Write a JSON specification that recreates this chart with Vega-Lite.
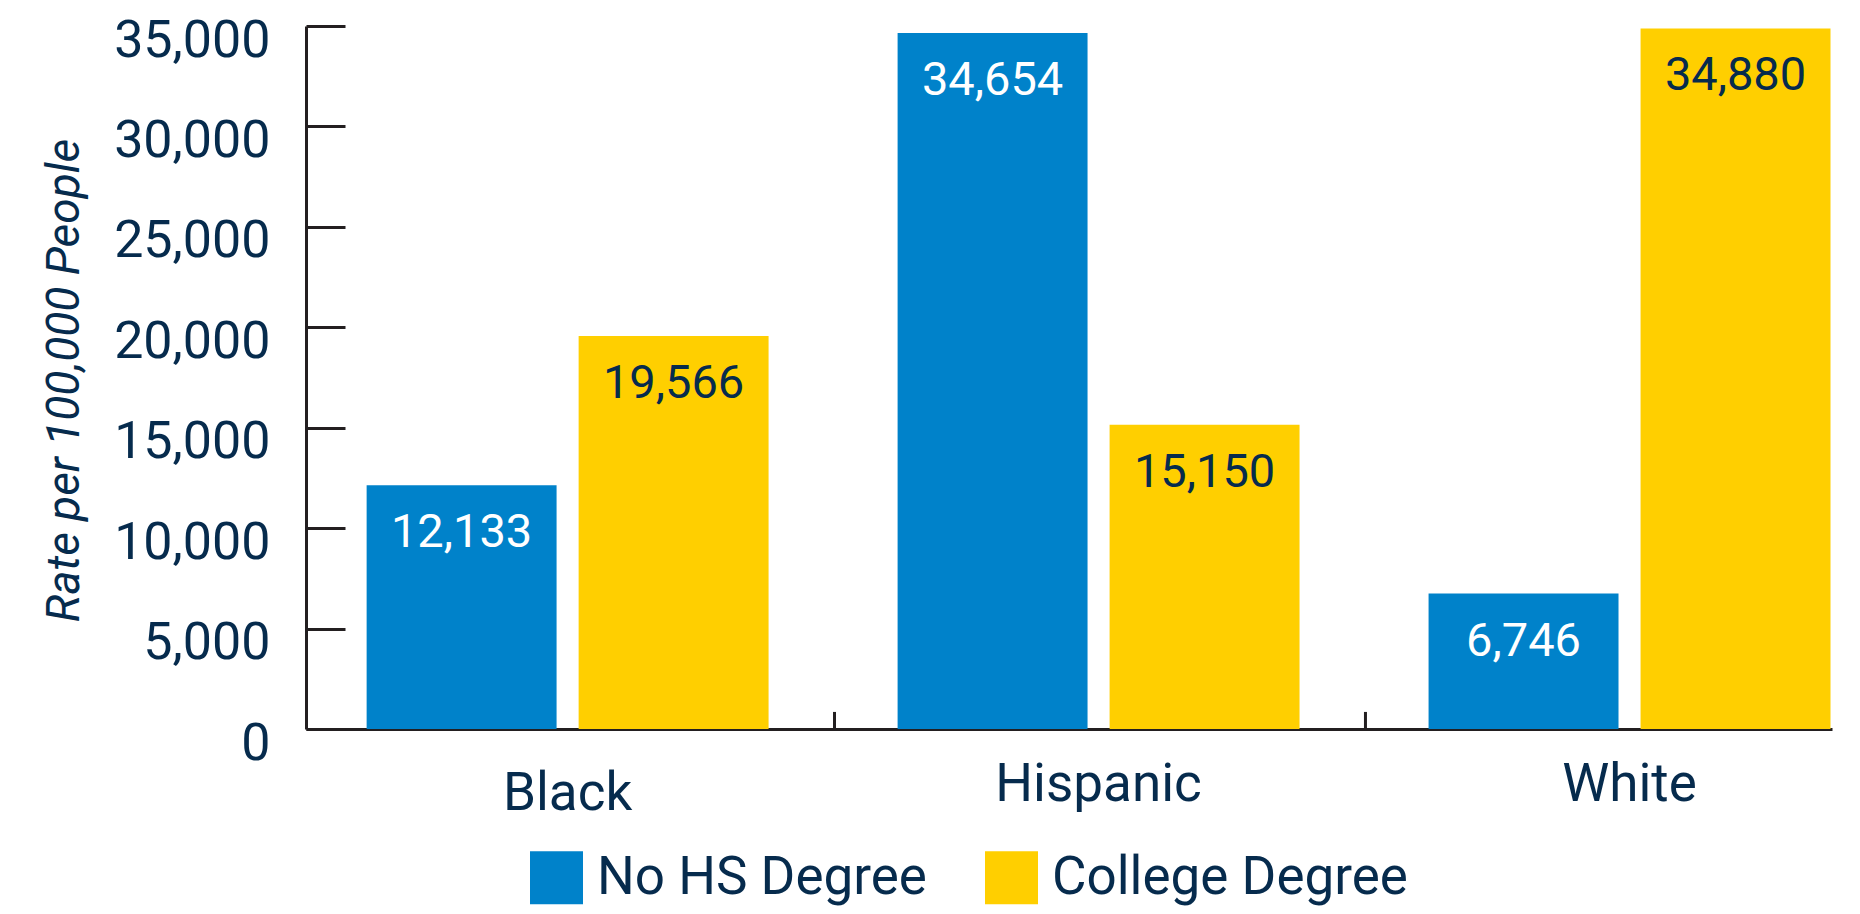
{
  "$schema": "https://vega.github.io/schema/vega-lite/v6.json",
  "width": 1526,
  "height": 703,
  "autosize": {"type": "none"},
  "padding": {"left": 306, "top": 26, "right": 28, "bottom": 185},
  "background": "white",
  "config": {"view": {"stroke": null}, "font": "Roboto"},
  "data": {
    "values": [
      {"race": "Black", "series": "No HS Degree", "value": 12133},
      {"race": "Black", "series": "College Degree", "value": 19566},
      {"race": "Hispanic", "series": "No HS Degree", "value": 34654},
      {"race": "Hispanic", "series": "College Degree", "value": 15150},
      {"race": "White", "series": "No HS Degree", "value": 6746},
      {"race": "White", "series": "College Degree", "value": 34880}
    ]
  },
  "encoding": {
    "x": {
      "field": "race",
      "type": "nominal",
      "scale": {"paddingInner": 0.243, "paddingOuter": 0.0585, "align": 0.976},
      "axis": {
        "title": null,
        "labelAngle": 0,
        "ticks": false,
        "domainColor": "#231f20",
        "domainWidth": 3,
        "labelFont": "Roboto",
        "labelFontSize": 53,
        "labelColor": "#062b4d",
        "labelLimit": 0,
        "labelPadding": {"condition": {"test": "datum.value === 'Black'", "value": 38}, "value": 29}
      }
    },
    "y": {
      "field": "value",
      "type": "quantitative",
      "scale": {"domain": [0, 35000], "nice": false},
      "axis": {
        "values": [0, 5000, 10000, 15000, 20000, 25000, 30000, 35000],
        "format": ",d",
        "grid": false,
        "domainColor": "#231f20",
        "domainWidth": 3,
        "tickColor": "#231f20",
        "tickWidth": 3,
        "tickSize": -39,
        "labelFont": "Roboto",
        "labelFontSize": 52,
        "labelColor": "#062b4d",
        "labelPadding": 75,
        "labelOffset": 14,
        "labelLimit": 0,
        "title": "Rate per 100,000 People",
        "titleFont": "Roboto",
        "titleFontSize": 46,
        "titleFontStyle": "italic",
        "titleFontWeight": "normal",
        "titleColor": "#062b4d",
        "titleAngle": 270,
        "titleX": -228,
        "titleY": 354,
        "titleAlign": "center",
        "titleBaseline": "alphabetic"
      }
    }
  },
  "layer": [
    {
      "mark": {"type": "bar"},
      "encoding": {
        "xOffset": {
          "field": "series",
          "sort": ["No HS Degree", "College Degree"],
          "scale": {"paddingInner": 0.104, "paddingOuter": 0}
        },
        "color": {
          "field": "series",
          "type": "nominal",
          "sort": ["No HS Degree", "College Degree"],
          "scale": {"domain": ["No HS Degree", "College Degree"], "range": ["#0082ca", "#ffcf00"]},
          "legend": {
            "orient": "none",
            "legendX": 224,
            "legendY": 825,
            "direction": "horizontal",
            "title": null,
            "padding": 0,
            "symbolType": "square",
            "symbolSize": 2809,
            "symbolStrokeWidth": 0,
            "symbolOpacity": 1,
            "labelFont": "Roboto",
            "labelFontSize": 53,
            "labelColor": "#062b4d",
            "labelOffset": 14,
            "labelLimit": 0,
            "columnPadding": 58
          }
        }
      }
    },
    {
      "mark": {"type": "text", "baseline": "middle", "dy": 48, "fontSize": 47, "font": "Roboto"},
      "encoding": {
        "xOffset": {
          "field": "series",
          "sort": ["No HS Degree", "College Degree"],
          "scale": {"paddingInner": 0.104, "paddingOuter": 0}
        },
        "text": {"field": "value", "type": "quantitative", "format": ",d"},
        "color": {
          "condition": {"test": "datum.series === 'No HS Degree'", "value": "#ffffff"},
          "value": "#062b4d"
        }
      }
    },
    {
      "transform": [{"filter": "datum.series === 'No HS Degree' && datum.race !== 'Black'"}],
      "mark": {"type": "rule", "color": "#231f20", "strokeWidth": 3},
      "encoding": {
        "x": {"field": "race", "type": "nominal", "bandPosition": -0.157},
        "y": {"datum": 0, "type": "quantitative"},
        "y2": {"datum": 850}
      }
    }
  ]
}
